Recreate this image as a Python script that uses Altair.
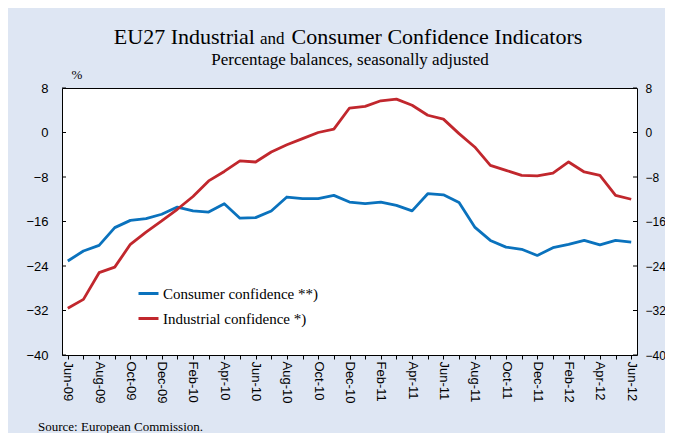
import altair as alt
import pandas as pd

months = ["Jun-09", "Jul-09", "Aug-09", "Sep-09", "Oct-09", "Nov-09", "Dec-09",
          "Jan-10", "Feb-10", "Mar-10", "Apr-10", "May-10", "Jun-10", "Jul-10",
          "Aug-10", "Sep-10", "Oct-10", "Nov-10", "Dec-10", "Jan-11", "Feb-11",
          "Mar-11", "Apr-11", "May-11", "Jun-11", "Jul-11", "Aug-11", "Sep-11",
          "Oct-11", "Nov-11", "Dec-11", "Jan-12", "Feb-12", "Mar-12", "Apr-12",
          "May-12", "Jun-12"]

consumer = [-23.1, -21.3, -20.3, -17.1, -15.8, -15.5, -14.7, -13.4, -14.1, -14.3,
            -12.8, -15.4, -15.3, -14.1, -11.6, -11.9, -11.9, -11.3, -12.5, -12.8,
            -12.5, -13.1, -14.1, -11.0, -11.2, -12.6, -17.0, -19.4, -20.6, -21.0,
            -22.1, -20.7, -20.1, -19.4, -20.2, -19.4, -19.7]

industrial = [-31.6, -30.0, -25.2, -24.2, -20.1, -17.9, -15.9, -13.8, -11.5, -8.7,
              -7.0, -5.1, -5.3, -3.5, -2.2, -1.1, 0.0, 0.6, 4.4, 4.7,
              5.7, 6.0, 4.9, 3.1, 2.4, -0.2, -2.6, -5.9, -6.8, -7.7,
              -7.8, -7.3, -5.3, -7.1, -7.7, -11.3, -12.0]

series_names = ["Consumer confidence **)", "Industrial confidence *)"]
series_colors = ["#0a72bd", "#c1272d"]
y_ticks = [8, 0, -8, -16, -24, -32, -40]
label_months = ["Jun", "Aug", "Oct", "Dec", "Feb", "Apr"]

title_left = "EU27 Industrial"
title_mid = "and"
title_right = "Consumer Confidence Indicators"
subtitle = "Percentage balances, seasonally adjusted"
unit_text = "%"
source_text = "Source: European Commission."

bg = "#dee6f3"

rows = []
for m, c, i in zip(months, consumer, industrial):
    rows.append({"month": m, "series": series_names[0], "value": c})
    rows.append({"month": m, "series": series_names[1], "value": i})
df = pd.DataFrame(rows)
tick_df = pd.DataFrame({"v": y_ticks})

yscale = alt.Scale(domain=[-40, 8], nice=False, zero=False)
xscale = alt.Scale(type="point", domain=months, padding=0.37)

label_expr = ("indexof(" + str(label_months) + ", slice(datum.value, 0, 3)) >= 0 ? datum.value : ''")

x_enc = alt.X("month:O", scale=xscale, sort=months,
              axis=alt.Axis(values=months, labelExpr=label_expr, labelAngle=90,
                            labelAlign="left", labelBaseline="middle", tickSize=4,
                            labelPadding=2, domain=False, grid=False, title=None,
                            labelOverlap=False, labelFontSize=13))

lines = alt.Chart(df).mark_line(strokeWidth=2.8, strokeJoin="round").encode(
    x=x_enc,
    y=alt.Y("value:Q", scale=yscale,
            axis=alt.Axis(values=y_ticks, orient="left", ticks=False, domain=False,
                          labelPadding=14, grid=False, title=None, labelFontSize=13)),
    color=alt.Color("series:N", scale=alt.Scale(domain=series_names, range=series_colors),
                    legend=alt.Legend(orient="none", legendX=75, legendY=194, title=None,
                                      symbolType="stroke", symbolSize=400,
                                      symbolStrokeWidth=3, labelFont="Liberation Serif",
                                      labelFontSize=15, labelColor="black", labelLimit=400,
                                      rowPadding=5, labelOffset=3, direction="vertical")),
    detail="series:N",
)

right_axis = alt.Chart(df).mark_line(opacity=0).encode(
    x=x_enc,
    y=alt.Y("value:Q", scale=yscale,
            axis=alt.Axis(values=y_ticks, orient="right", ticks=False, domain=False,
                          labelPadding=8, grid=False, title=None, labelFontSize=12)),
    detail="series:N",
)

left_ticks = alt.Chart(tick_df).mark_rule(color="black", strokeWidth=1).encode(
    y=alt.Y("v:Q", scale=yscale, axis=None), x=alt.value(0), x2=alt.value(4))
right_ticks = alt.Chart(tick_df).mark_rule(color="black", strokeWidth=1).encode(
    y=alt.Y("v:Q", scale=yscale, axis=None), x=alt.value(571), x2=alt.value(575))


def text_layer(t, x, y, size, align, font="Liberation Serif"):
    return alt.Chart(pd.DataFrame({"t": [t]})).mark_text(
        align=align, baseline="alphabetic", font=font, fontSize=size, color="black"
    ).encode(x=alt.value(x), y=alt.value(y), text="t:N")


texts = [
    text_layer(title_left, 193, -44, 22, "right"),
    text_layer(title_mid, 198, -44, 17, "left"),
    text_layer(title_right, 229.5, -44, 22, "left"),
    text_layer(subtitle, 288, -23, 17, "center"),
    text_layer(unit_text, 15, -9, 13, "center"),
    text_layer(source_text, -24, 343, 13, "left"),
]

chart = alt.layer(lines, right_axis, left_ticks, right_ticks, *texts).resolve_scale(
    y="independent"
).properties(
    width=575, height=267, background=bg,
    padding={"left": 54, "top": 80, "right": 28, "bottom": 78},
    autosize=alt.AutoSizeParams(type="none"),
).configure_view(
    stroke="black", strokeWidth=1, fill="white"
).configure_axis(
    labelColor="black", tickColor="black", labelFont="Liberation Sans"
)

chart.save("out.html", embed_options={"renderer": "svg", "actions": False})
